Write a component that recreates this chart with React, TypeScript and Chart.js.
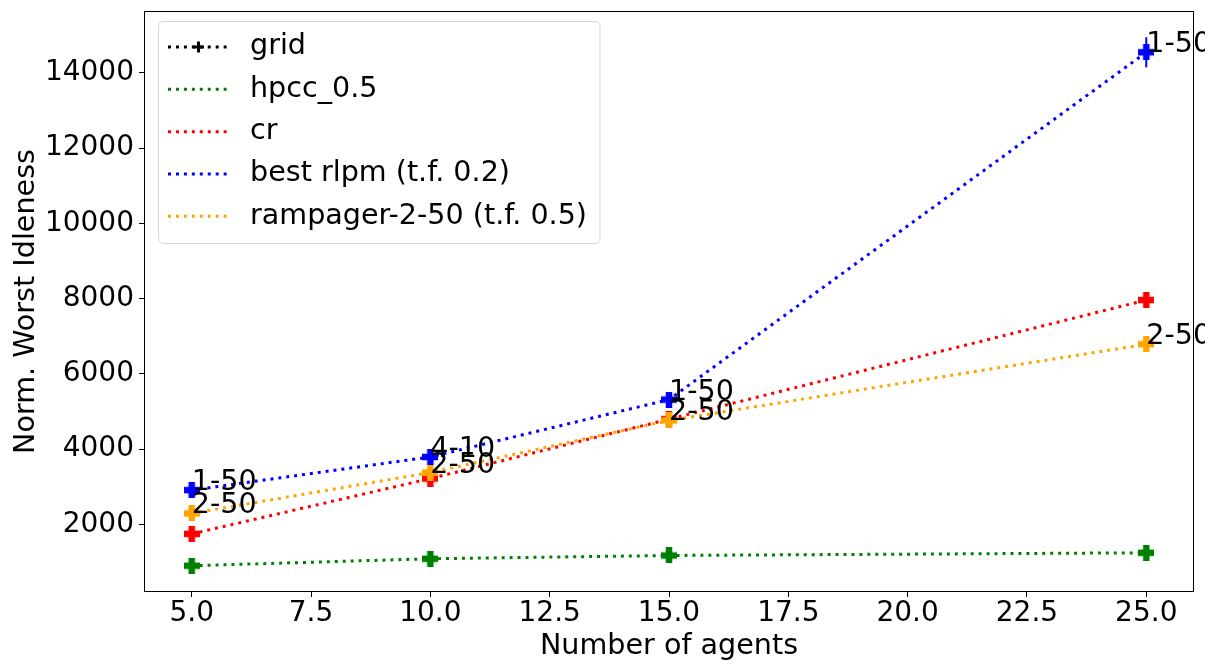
import React, { useEffect, useRef } from "react";
import { Chart, registerables } from "chart.js";

Chart.register(...registerables);

const agents = [5, 10, 15, 25];
const gridValues: number[] = [];
const hpccValues = [899, 1085, 1172, 1243];
const crValues = [1746, 3217, 4796, 7963];
const rlpmValues = [2910, 3791, 5317, 14550];
const rlpmErrors = [0, 0, 0, 400];
const rampagerValues = [2291, 3376, 4762, 6788];
const rlpmNotes = ["1-50", "4-10", "1-50", "1-50"];
const rampagerNotes = ["2-50", "2-50", "2-50", "2-50"];
const seriesLabels = ["grid", "hpcc_0.5", "cr", "best rlpm (t.f. 0.2)", "rampager-2-50 (t.f. 0.5)"];
const seriesColors = ["#000000", "#008000", "#ff0000", "#0000ff", "#ffa500"];
const xTickValues = [5, 7.5, 10, 12.5, 15, 17.5, 20, 22.5, 25];
const yTickValues = [2000, 4000, 6000, 8000, 10000, 12000, 14000];
const xTitle = "Number of agents";
const yTitle = "Norm. Worst Idleness";

const FONT = "'DejaVu Sans', sans-serif";
const FS = 28;
const FS_TEXT = 28.6;

function makePlus(color: string): HTMLCanvasElement {
  const c = document.createElement("canvas");
  const s = 16;
  c.width = s;
  c.height = s;
  const g = c.getContext("2d")!;
  g.fillStyle = color;
  const a = 6.5;
  const o = (s - a) / 2;
  g.fillRect(o, 0, a, s);
  g.fillRect(0, o, s, a);
  return c;
}

export default function App() {
  const ref = useRef<HTMLCanvasElement>(null);

  useEffect(() => {
    const canvas = ref.current!;
    const allValues = [gridValues, hpccValues, crValues, rlpmValues, rampagerValues];
    const datasets = allValues.map((vals, i) => ({
      label: seriesLabels[i],
      data: vals.map((v, j) => ({ x: agents[j], y: v })),
      borderColor: seriesColors[i],
      backgroundColor: seriesColors[i],
      borderWidth: 3,
      borderDash: [3, 4.95],
      borderCapStyle: "butt" as const,
      pointStyle: makePlus(seriesColors[i]),
      pointRadius: 8,
      pointHoverRadius: 8,
      tension: 0,
      fill: false,
      order: allValues.length - 1 - i,
    }));

    const notes = [
      { idx: 3, vals: rlpmValues, texts: rlpmNotes },
      { idx: 4, vals: rampagerValues, texts: rampagerNotes },
    ];

    const decor = {
      id: "decor",
      beforeDatasetsDraw(chart: any) {
        const ctx = chart.ctx;
        const xs = chart.scales.x;
        const ys = chart.scales.y;
        ctx.save();
        ctx.strokeStyle = seriesColors[3];
        ctx.lineWidth = 2;
        rlpmValues.forEach((v, j) => {
          const e = rlpmErrors[j];
          if (!e) return;
          const px = xs.getPixelForValue(agents[j]);
          ctx.beginPath();
          ctx.moveTo(px, ys.getPixelForValue(v - e));
          ctx.lineTo(px, ys.getPixelForValue(v + e));
          ctx.stroke();
        });
        ctx.restore();
      },
      afterDatasetsDraw(chart: any) {
        const ctx = chart.ctx;
        const xs = chart.scales.x;
        const ys = chart.scales.y;
        const ca = chart.chartArea;
        ctx.save();
        ctx.beginPath();
        ctx.rect(0, 0, 1205, 664);
        ctx.clip();
        ctx.font = `${FS_TEXT}px ${FONT}`;
        ctx.fillStyle = "#000";
        ctx.textAlign = "left";
        ctx.textBaseline = "alphabetic";
        notes.forEach((n) => {
          n.vals.forEach((v, j) => {
            ctx.fillText(n.texts[j], xs.getPixelForValue(agents[j]), ys.getPixelForValue(v));
          });
        });
        ctx.restore();

        // frame
        ctx.save();
        ctx.strokeStyle = "#000";
        ctx.lineWidth = 1;
        ctx.strokeRect(Math.round(ca.left) + 0.5, Math.round(ca.top) + 0.5, Math.round(ca.right - ca.left) - 1, Math.round(ca.bottom - ca.top) - 1);
        ctx.restore();

        // legend
        ctx.save();
        const bx = 158.5, by = 21.5, bw = 441.5, bh = 222;
        const r = 5;
        ctx.beginPath();
        ctx.moveTo(bx + r, by);
        ctx.lineTo(bx + bw - r, by);
        ctx.quadraticCurveTo(bx + bw, by, bx + bw, by + r);
        ctx.lineTo(bx + bw, by + bh - r);
        ctx.quadraticCurveTo(bx + bw, by + bh, bx + bw - r, by + bh);
        ctx.lineTo(bx + r, by + bh);
        ctx.quadraticCurveTo(bx, by + bh, bx, by + bh - r);
        ctx.lineTo(bx, by + r);
        ctx.quadraticCurveTo(bx, by, bx + r, by);
        ctx.closePath();
        ctx.fillStyle = "rgba(255,255,255,0.8)";
        ctx.fill();
        ctx.strokeStyle = "rgba(204,204,204,0.8)";
        ctx.lineWidth = 1;
        ctx.stroke();
        const rowY = [47, 89.3, 131.7, 174, 216.3];
        seriesLabels.forEach((lab, i) => {
          const y = rowY[i];
          ctx.save();
          ctx.strokeStyle = seriesColors[i];
          ctx.lineWidth = 3;
          ctx.setLineDash([3, 4.95]);
          ctx.beginPath();
          ctx.moveTo(168, y);
          ctx.lineTo(228, y);
          ctx.stroke();
          ctx.restore();
          if (i === 0) {
            ctx.save();
            ctx.strokeStyle = "#000";
            ctx.lineWidth = 3;
            ctx.beginPath();
            ctx.moveTo(193, y);
            ctx.lineTo(204, y);
            ctx.moveTo(198.5, y - 5.5);
            ctx.lineTo(198.5, y + 5.5);
            ctx.stroke();
            ctx.restore();
          }
          ctx.fillStyle = "#000";
          ctx.font = `${FS_TEXT}px ${FONT}`;
          ctx.textAlign = "left";
          ctx.textBaseline = "middle";
          ctx.fillText(lab, 250, y);
        });
        ctx.restore();
      },
    };

    const chart = new Chart(canvas, {
      type: "line",
      data: { datasets: datasets as any },
      plugins: [decor],
      options: {
        animation: false,
        responsive: false,
        devicePixelRatio: 1,
        layout: { padding: { top: 8, right: 23, left: 0, bottom: 0 } },
        plugins: { legend: { display: false }, tooltip: { enabled: false } },
        scales: {
          x: {
            type: "linear",
            min: 4,
            max: 26,
            afterBuildTicks: (s: any) => {
              s.ticks = xTickValues.map((v) => ({ value: v }));
            },
            afterFit: (s: any) => {
              s.height = 72;
              s.paddingLeft = 0;
              s.paddingRight = 0;
            },
            ticks: {
              color: "#000",
              font: { family: FONT, size: FS },
              padding: 0,
              maxRotation: 0,
              autoSkip: false,
              callback: (v: any) => Number(v).toFixed(1),
            },
            grid: { display: true, drawOnChartArea: false, drawTicks: true, tickLength: 5, color: "#000" },
            border: { display: false },
            title: { display: true, text: xTitle, color: "#000", font: { family: FONT, size: FS_TEXT }, padding: { top: 0, bottom: 0 } },
          },
          y: {
            type: "linear",
            min: 201,
            max: 15648,
            afterBuildTicks: (s: any) => {
              s.ticks = yTickValues.map((v) => ({ value: v }));
            },
            afterFit: (s: any) => {
              s.width = 144;
              s.paddingTop = 0;
              s.paddingBottom = 0;
            },
            ticks: {
              color: "#000",
              font: { family: FONT, size: FS },
              padding: 5,
              autoSkip: false,
              callback: (v: any) => String(v),
            },
            grid: { display: true, drawOnChartArea: false, drawTicks: true, tickLength: 5, color: "#000" },
            border: { display: false },
            title: { display: true, text: yTitle, color: "#000", font: { family: FONT, size: FS_TEXT }, padding: { top: 9, bottom: 0 } },
          },
        },
      },
    });
    return () => chart.destroy();
  }, []);

  return (
    <div style={{ position: "absolute", left: 0, top: 0, width: 1217, height: 664, background: "#fff" }}>
      <canvas ref={ref} width={1217} height={664} style={{ display: "block" }} />
    </div>
  );
}
